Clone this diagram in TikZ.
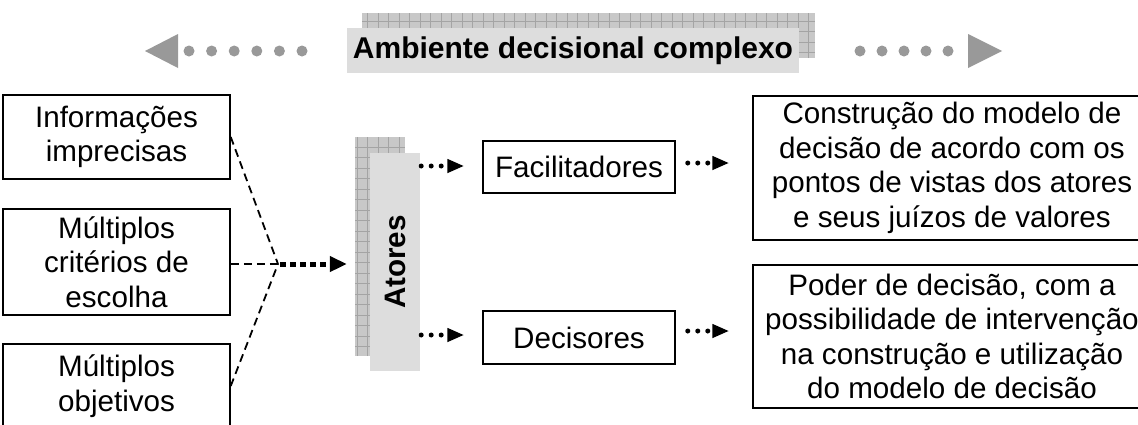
\documentclass[tikz,border=0pt]{standalone}
\usepackage{fontspec}
\setmainfont{Liberation Sans}
\usetikzlibrary{arrows.meta}
\definecolor{frontgray}{HTML}{DDDDDD}
\definecolor{gridbg}{HTML}{C8C8C8}
\definecolor{gridln}{HTML}{A4A4A4}
\definecolor{arrgray}{HTML}{999999}
\tikzset{
  txt/.style={font=\fontsize{29.6}{34.5}\selectfont, align=center, inner sep=0pt},
  box/.style={draw, line width=1.5pt, txt},
  smalldot/.style={line width=5pt, line cap=round, dash pattern=on 0pt off 10pt,
    -{Triangle[length=17pt,width=13pt,line cap=butt]}},
  bigdot/.style={line width=5pt, dash pattern=on 6pt off 4pt,
    -{Triangle[length=17pt,width=15pt]}},
  convline/.style={line width=1.8pt, dash pattern=on 8pt off 5pt},
}
\begin{document}
\begin{tikzpicture}[x=1pt,y=-1pt]
\useasboundingbox (0,0) rectangle (1138,424);
\clip (0,0) rectangle (1138,424);

% title with grid shadow
\begin{scope}
  \clip (362,13) rectangle (815,58);
  \fill[gridbg] (362,13) rectangle (815,58);
  \draw[gridln, line width=0.8pt, step=10.5pt] (362,13) grid (815,58);
\end{scope}
\node[fill=frontgray, minimum width=452pt, minimum height=45pt, inner sep=0pt,
      font=\fontsize{30}{36}\selectfont\bfseries] (title) at (573,50.5) {Ambiente decisional complexo};

% top gray arrows
\fill[arrgray] (145,51) -- (178,34) -- (178,68) -- cycle;
\foreach \x in {189,211.6,234.2,256.8,279.4,302} \fill[arrgray] (\x,51) circle (5.5pt);
\foreach \x in {860,882,904,926,948} \fill[arrgray] (\x,51) circle (5.5pt);
\fill[arrgray] (1002,51) -- (968,34) -- (968,68) -- cycle;

% left boxes
\node[box, minimum width=227pt, minimum height=84pt] (l1) at (116.5,137) {Informações\\imprecisas};
\node[box, minimum width=227pt, minimum height=106pt] (l2) at (116.5,262) {Múltiplos\\critérios de\\escolha};
\node[box, minimum width=227pt, minimum height=84pt] (l3) at (116.5,386) {Múltiplos\\objetivos};

% Atores
\begin{scope}
  \clip (355,137) rectangle (405,356);
  \fill[gridbg] (355,137) rectangle (405,356);
  \draw[gridln, line width=0.8pt, step=10.5pt] (355,137) grid (405,356);
\end{scope}
\node[fill=frontgray, minimum width=50pt, minimum height=218pt, inner sep=0pt] (atores) at (395,262) {};
\node[rotate=90, font=\fontsize{29.6}{35}\selectfont\bfseries, inner sep=0pt] (atorestxt) at (atores.center) {Atores};

% middle boxes
\node[box, minimum width=192pt, minimum height=52pt] (fac) at (579,167) {Facilitadores};
\node[box, minimum width=192pt, minimum height=53pt] (dec) at (579,337.5) {Decisores};

% right boxes
\node[box, minimum width=398pt, minimum height=144pt] (rb1) at (952,168)
  {Construção do modelo de\\decisão de acordo com os\\pontos de vistas dos atores\\e seus juízos de valores};
\node[box, minimum width=398pt, minimum height=143pt] (rb2) at (952,336.5)
  {Poder de decisão, com a\\possibilidade de intervenção\\na construção e utilização\\do modelo de decisão};

% convergence
\coordinate (conv) at (278,264);
\draw[convline] (l1.east) -- (conv);
\draw[convline] (l2.east |- conv) -- (conv);
\draw[convline] (l3.east) -- (conv);
\draw[bigdot, shorten <=2pt, shorten >=23pt] (conv) -- (atores.west |- conv);

% small dotted arrows
\draw[smalldot, shorten <=1pt, shorten >=18pt] (atores.east |- 0,166) -- (fac.west |- 0,166);
\draw[smalldot, shorten <=1pt, shorten >=18pt] (atores.east |- 0,335) -- (dec.west |- 0,335);
\draw[smalldot, shorten <=12pt, shorten >=23pt] (fac.east |- 0,163) -- (rb1.west |- 0,163);
\draw[smalldot, shorten <=12pt, shorten >=23pt] (dec.east |- 0,331) -- (rb2.west |- 0,331);
\end{tikzpicture}
\end{document}
